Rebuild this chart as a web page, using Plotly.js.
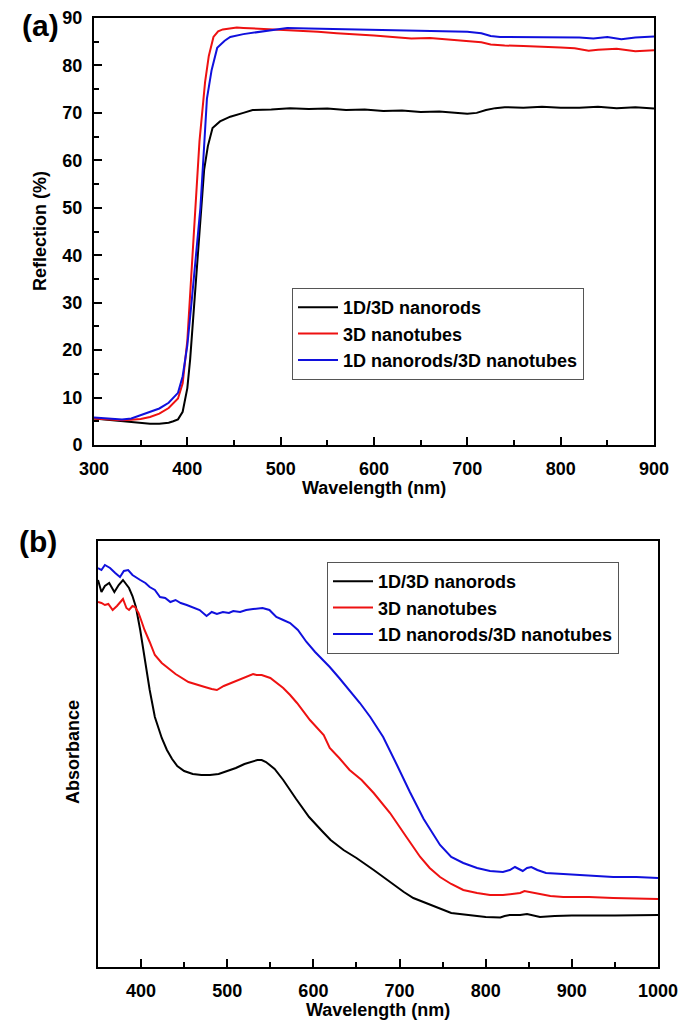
<!DOCTYPE html>
<html>
<head>
<meta charset="utf-8">
<script src="https://cdn.plot.ly/plotly-3.0.1.min.js"></script>
<style>
  html, body { margin: 0; padding: 0; background: #fff; }
  #chart { width: 685px; height: 1023px; }
</style>
</head>
<body>
<div id="chart"></div>
<script>
// (a) reflection spectra, wavelength in nm, reflection in %
var rodsWlA = [300,310,320,330,340,350,360,370,380,385,390,395,400,403,406,410,414,418,422,427,435,446,460,470,490,510,530,550,570,590,610,630,650,670,690,700,710,720,730,740,760,780,800,820,840,860,880,900];
var rodsReflA = [5.6,5.4,5.2,5.0,4.8,4.6,4.5,4.5,4.7,5.0,5.4,7.0,12,18,26,38,47,58,63,66.8,68.2,69.2,70,70.6,70.7,71,70.8,70.9,70.6,70.7,70.4,70.5,70.2,70.3,70,69.8,70.0,70.6,71.0,71.2,71.1,71.3,71.1,71.1,71.3,71.0,71.2,70.9];

var tubesWlA = [300,310,320,330,340,350,360,370,380,390,395,400,404,408,413,419,423,428,433,438,445,453,460,470,480,500,520,540,560,580,600,620,640,660,680,700,715,725,740,760,780,800,815,830,840,860,880,900];
var tubesReflA = [5.6,5.5,5.3,5.2,5.3,5.5,5.9,6.6,7.8,9.8,13,22,35,48.5,64,76.5,82,86,87.2,87.6,87.8,88,87.9,87.8,87.8,87.6,87.3,87.1,86.8,86.6,86.3,86.0,85.7,85.8,85.5,85.2,84.9,84.4,84.2,84.1,84.0,83.8,83.6,83.1,83.3,83.5,83.0,83.2];

var mixWlA = [300,310,320,330,340,350,360,370,380,390,395,400,405,410,414,418,421,426,432,440,446,460,475,490,507,530,560,590,620,650,680,700,715,725,735,760,790,820,835,850,865,880,900];
var mixReflA = [5.8,5.7,5.5,5.4,5.6,6.3,6.9,7.7,8.9,11,14.5,21,31,42,50,63,73,79,83.7,85.2,86,86.6,87,87.4,87.9,87.8,87.7,87.6,87.5,87.4,87.2,87.1,86.8,86.2,86.0,86.0,86.0,85.9,85.7,86.0,85.5,85.9,86.1];

// (b) absorbance spectra, arbitrary units
var rodsWlB = [350,354,358,363,369,374,379,383,386,390,394,399,404,410,416,424,430,436,442,450,460,470,480,490,500,510,520,530,535,540,545,555,565,580,595,610,620,635,650,670,690,705,716,730,745,760,780,800,817,822,828,840,848,856,863,880,900,950,1000];
var rodsAbsB = [3.87,3.75,3.81,3.84,3.75,3.82,3.87,3.83,3.79,3.71,3.60,3.37,3.10,2.77,2.50,2.29,2.17,2.08,2.01,1.96,1.93,1.92,1.92,1.93,1.96,1.99,2.03,2.06,2.07,2.07,2.05,1.98,1.87,1.68,1.50,1.36,1.27,1.17,1.09,0.97,0.84,0.75,0.69,0.64,0.59,0.54,0.52,0.50,0.495,0.51,0.52,0.52,0.53,0.51,0.50,0.51,0.515,0.515,0.52];

var tubesWlB = [350,354,358,362,367,372,379,383,386,390,393,397,400,404,410,416,424,431,440,455,465,474,482,488,496,504,513,522,530,534,540,550,558,565,573,581,596,612,619,630,642,656,670,689,708,724,735,747,760,774,790,805,820,832,840,845,851,860,875,890,920,948,1000];
var tubesAbsB = [3.65,3.64,3.62,3.63,3.57,3.61,3.68,3.59,3.57,3.61,3.60,3.54,3.47,3.37,3.25,3.12,3.04,2.99,2.93,2.85,2.82,2.80,2.78,2.77,2.81,2.84,2.87,2.90,2.93,2.92,2.92,2.89,2.84,2.79,2.72,2.64,2.47,2.32,2.19,2.09,1.97,1.87,1.74,1.54,1.30,1.10,0.99,0.90,0.83,0.77,0.74,0.72,0.72,0.73,0.74,0.76,0.75,0.73,0.71,0.70,0.70,0.69,0.68];

var mixWlB = [350,354,358,364,370,375.5,380,385,390,395,399,405,410,416,422,428,434,440,446,453,460,468,476,482,488,495,502,507,515,522,530,541,549,557,565,573,582,592,602,611,619,630,642,654,666,681,697,712,728,747,760,774,790,805,820,828,834,838,843,848,853,860,870,890,909,930,948,975,1000];
var mixAbsB = [3.99,3.97,4.02,3.99,3.94,3.90,3.96,3.97,3.92,3.89,3.87,3.84,3.80,3.77,3.70,3.69,3.65,3.67,3.64,3.62,3.60,3.57,3.51,3.55,3.53,3.55,3.54,3.56,3.55,3.57,3.58,3.59,3.57,3.50,3.47,3.44,3.37,3.25,3.15,3.07,3.00,2.89,2.77,2.64,2.50,2.30,2.02,1.75,1.48,1.22,1.10,1.04,0.99,0.96,0.95,0.97,1.00,0.98,0.96,0.99,1.00,0.97,0.94,0.93,0.92,0.91,0.90,0.90,0.89];

var seriesNames = ['1D/3D nanorods', '3D nanotubes', '1D nanorods/3D nanotubes'];
var seriesColors = ['#000000', '#ee1111', '#1010dd'];

var W = 685, H = 1023;
function px(x) { return x / W; }
function py(y) { return 1 - y / H; }

var FONT = 'Liberation Sans, Arial, sans-serif';

function line(x, y, i, xa, ya, leg) {
    return {
        x: x, y: y, type: 'scatter', mode: 'lines',
        name: seriesNames[i],
        line: { color: seriesColors[i], width: 2 },
        xaxis: xa, yaxis: ya, legend: leg
    };
}

var traces = [
    line(rodsWlA, rodsReflA, 0, 'x', 'y', 'legend'),
    line(tubesWlA, tubesReflA, 1, 'x', 'y', 'legend'),
    line(mixWlA, mixReflA, 2, 'x', 'y', 'legend'),
    line(rodsWlB, rodsAbsB, 0, 'x2', 'y2', 'legend2'),
    line(tubesWlB, tubesAbsB, 1, 'x2', 'y2', 'legend2'),
    line(mixWlB, mixAbsB, 2, 'x2', 'y2', 'legend2')
];

var tickFont = { family: FONT, size: 18, color: '#000', weight: 'bold' };

var baseAxis = {
    showline: true, linecolor: '#000', linewidth: 2, mirror: true,
    showgrid: false, zeroline: false,
    ticks: 'inside', ticklen: 8, tickwidth: 2, tickcolor: '#000',
    tickfont: tickFont, ticklabelstandoff: 6
};

var legendBase = {
    xanchor: 'left', yanchor: 'top',
    bgcolor: 'rgba(255,255,255,1)', bordercolor: '#555', borderwidth: 1,
    font: { family: FONT, size: 18, color: '#000', weight: 'bold' },
    tracegroupgap: 0, itemwidth: 40
};

function label(text, x, y, size, angle) {
    return {
        text: text, x: px(x), y: py(y), xref: 'paper', yref: 'paper',
        xanchor: 'center', yanchor: 'middle', showarrow: false, textangle: angle || 0,
        font: { family: FONT, size: size, color: '#000', weight: 'bold' }
    };
}

var layout = {
    width: W, height: H,
    margin: { l: 0, r: 0, t: 0, b: 0 },
    paper_bgcolor: '#fff', plot_bgcolor: '#fff',
    showlegend: true,
    xaxis: Object.assign({}, baseAxis, {
        domain: [px(94), px(654)], anchor: 'y',
        range: [300, 900], dtick: 100, tick0: 300,
        minor: { dtick: 50, ticks: 'inside', ticklen: 5, tickwidth: 2, tickcolor: '#000' }
    }),
    yaxis: Object.assign({}, baseAxis, {
        domain: [py(445), py(18)], anchor: 'x',
        range: [0, 90], dtick: 10, tick0: 0,
        minor: { dtick: 5, ticks: 'inside', ticklen: 5, tickwidth: 2, tickcolor: '#000' }
    }),
    xaxis2: Object.assign({}, baseAxis, {
        domain: [px(98), px(658)], anchor: 'y2',
        range: [350, 1000], dtick: 100, tick0: 400,
        minor: { dtick: 50, ticks: 'inside', ticklen: 5, tickwidth: 2, tickcolor: '#000' }
    }),
    yaxis2: Object.assign({}, baseAxis, {
        domain: [py(967), py(541)], anchor: 'x2',
        range: [0, 4.26], ticks: '', showticklabels: false
    }),
    legend: Object.assign({}, legendBase, { x: px(292), y: py(288) }),
    legend2: Object.assign({}, legendBase, { x: px(327), y: py(562) }),
    annotations: [
        label('(a)', 40, 26, 30),
        label('(b)', 38, 541, 30),
        label('Reflection (%)', 40, 231, 18, -90),
        label('Wavelength (nm)', 374, 488, 18),
        label('Absorbance', 73, 752, 18, -90),
        label('Wavelength (nm)', 378, 1010, 18)
    ]
};

Plotly.newPlot('chart', traces, layout, { displayModeBar: false, staticPlot: true });
</script>
</body>
</html>
